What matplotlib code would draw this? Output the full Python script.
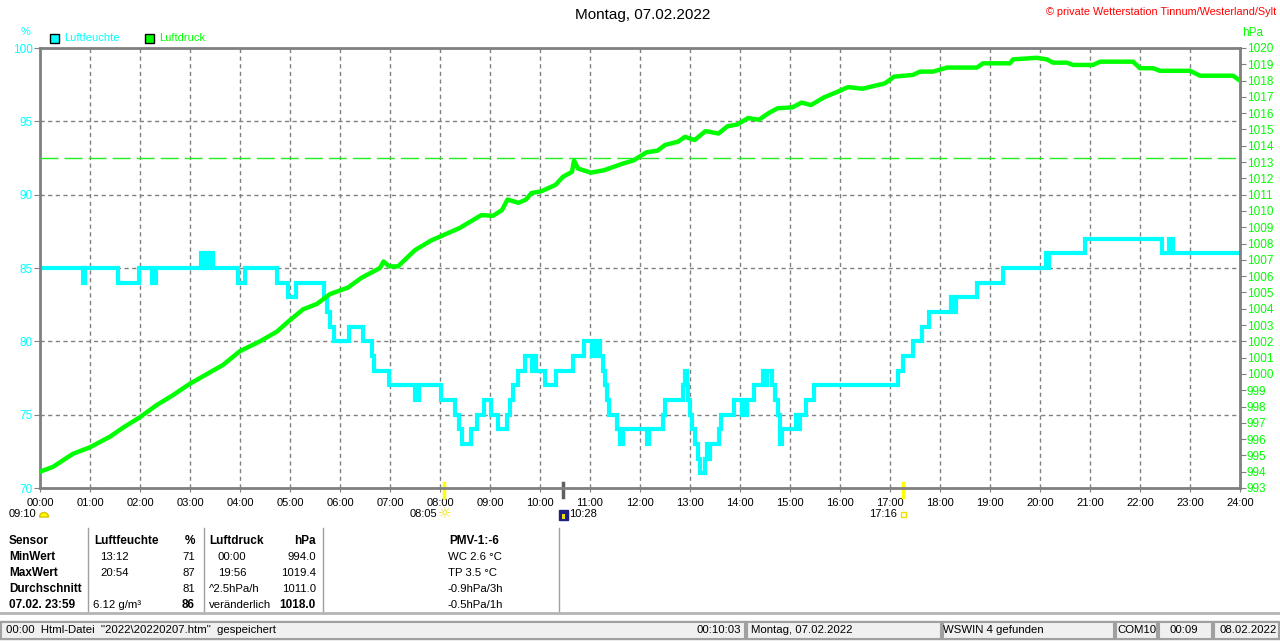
import matplotlib
matplotlib.use("Agg")
import matplotlib.pyplot as plt
import matplotlib.patches as mpatches
import matplotlib.transforms as mtransforms

plt.rcParams['font.family'] = ['Liberation Sans', 'DejaVu Sans']

# humidity, % (step values, hours since midnight)
hum_t = [0.00, 0.86, 0.90, 1.55, 1.97, 2.24, 2.32, 3.22, 3.27, 3.31, 3.35, 3.39, 3.46,
         3.96, 4.10, 4.73, 4.96, 5.12, 5.68, 5.74, 5.80, 5.88, 6.18, 6.45, 6.64, 6.68,
         6.97, 7.50, 7.57, 8.02, 8.30, 8.38, 8.44, 8.62, 8.74, 8.88, 9.02, 9.16, 9.34,
         9.40, 9.46, 9.56, 9.70, 9.84, 9.88, 9.92, 10.10, 10.32, 10.66, 10.88, 11.04,
         11.12, 11.20, 11.26, 11.30, 11.34, 11.38, 11.54, 11.60, 11.66, 12.14, 12.18,
         12.46, 12.50, 12.86, 12.90, 12.94, 12.96, 13.00, 13.04, 13.10, 13.16, 13.20,
         13.30, 13.34, 13.36, 13.40, 13.58, 13.62, 13.88, 14.04, 14.07, 14.09, 14.13,
         14.27, 14.45, 14.48, 14.53, 14.63, 14.70, 14.75, 14.80, 14.83, 15.12, 15.17,
         15.20, 15.32, 15.47, 17.16, 17.26, 17.46, 17.65, 17.78, 18.22, 18.25, 18.32,
         18.74, 19.26, 20.12, 20.15, 20.18, 20.90, 22.44, 22.58, 22.66, 24.00]
hum_v = [85, 84, 85, 84, 85, 84, 85, 86, 85, 86, 85, 86, 85,
         84, 85, 84, 83, 84, 83, 82, 81, 80, 81, 80, 79, 78,
         77, 76, 77, 76, 75, 74, 73, 74, 75, 76, 75, 74, 75,
         76, 77, 78, 79, 78, 79, 78, 77, 78, 79, 80, 79,
         80, 79, 78, 77, 76, 75, 74, 73, 74, 73, 74,
         75, 76, 77, 78, 77, 76, 75, 74, 73, 72, 71,
         72, 73, 72, 73, 74, 75, 76, 75, 76, 75, 76,
         77, 78, 77, 78, 77, 76, 75, 73, 74, 75, 74,
         75, 76, 77, 78, 79, 80, 81, 82, 83, 82, 83,
         84, 85, 86, 85, 86, 87, 86, 87, 86, 86]

# air pressure, hPa
pres_t = [0.00, 0.26, 0.66, 1.00, 1.40, 1.66, 2.00, 2.34, 2.66, 3.00, 3.40, 3.66, 4.00,
          4.40, 4.74, 4.96, 5.26, 5.54, 5.80, 6.16, 6.43, 6.80, 6.87, 6.98, 7.16, 7.50,
          7.83, 8.39, 8.83, 9.06, 9.24, 9.35, 9.57, 9.72, 9.83, 10.02, 10.31, 10.46,
          10.64, 10.68, 10.76, 11.02, 11.28, 11.65, 11.87, 12.13, 12.35, 12.50, 12.76,
          12.90, 13.09, 13.31, 13.57, 13.75, 13.94, 14.16, 14.38, 14.57, 14.75, 15.05,
          15.23, 15.42, 15.68, 15.94, 16.16, 16.45, 16.68, 16.90, 17.08, 17.46, 17.60,
          17.86, 18.14, 18.74, 18.86, 19.40, 19.46, 19.93, 20.14, 20.26, 20.54, 20.66,
          21.06, 21.20, 21.86, 22.00, 22.26, 22.40, 23.00, 23.20, 23.86, 24.00]
pres_v = [994.0, 994.3, 995.1, 995.5, 996.15, 996.7, 997.35, 998.1, 998.7, 999.4, 1000.1,
          1000.55, 1001.4, 1002.0, 1002.6, 1003.2, 1003.96, 1004.3, 1004.9, 1005.3, 1005.9,
          1006.5, 1006.9, 1006.6, 1006.6, 1007.6, 1008.2, 1008.95, 1009.75, 1009.7, 1010.06,
          1010.7, 1010.5, 1010.7, 1011.1, 1011.2, 1011.6, 1012.1, 1012.4, 1013.1, 1012.6,
          1012.35, 1012.5, 1012.9, 1013.1, 1013.6, 1013.7, 1014.05, 1014.25, 1014.55,
          1014.35, 1014.9, 1014.75, 1015.2, 1015.3, 1015.7, 1015.6, 1016.0, 1016.3, 1016.36,
          1016.65, 1016.5, 1016.97, 1017.3, 1017.6, 1017.5, 1017.67, 1017.83, 1018.24,
          1018.35, 1018.55, 1018.55, 1018.8, 1018.8, 1019.06, 1019.06, 1019.3, 1019.4,
          1019.3, 1019.1, 1019.1, 1018.96, 1018.96, 1019.16, 1019.16, 1018.76, 1018.76,
          1018.6, 1018.6, 1018.3, 1018.3, 1018.0]

std_pressure = 1013.25
hour_labels = ["%02d:00" % h for h in range(25)]
hum_ticks = [70, 75, 80, 85, 90, 95, 100]
pres_ticks = list(range(993, 1021))

# sun / moon events: (hour, label)
sunrise = (8 + 5 / 60, "08:05")
sunset = (17 + 16 / 60, "17:16")
moon_mark = (10 + 28 / 60, "10:28")
moonrise_label = "09:10"

table_rows = [
    ["Sensor", "Luftfeuchte", "%", "Luftdruck", "hPa", "PMV-1:-6"],
    ["MinWert", "13:12", "71", "00:00", "994.0", "WC 2.6 °C"],
    ["MaxWert", "20:54", "87", "19:56", "1019.4", "TP 3.5 °C"],
    ["Durchschnitt", "", "81", "^2.5hPa/h", "1011.0", "-0.9hPa/3h"],
    ["07.02. 23:59", "6.12 g/m³", "86", "veränderlich", "1018.0", "-0.5hPa/1h"],
]

status_texts = ['00:00  Html-Datei  "2022\\20220207.htm"  gespeichert', "00:10:03",
                "Montag, 07.02.2022", "WSWIN 4 gefunden", "COM10", "00:09", "08.02.2022"]

CYAN = "#00ffff"
GREEN = "#00ff00"
GRAY = "#808080"

W, H = 1280, 641
fig = plt.figure(figsize=(W / 100, H / 100), dpi=100)
fig.patch.set_facecolor("white")
ax = fig.add_axes([40 / W, 1 - 488 / H, 1200 / W, 440 / H])
ax2 = ax.twinx()

ax.step(hum_t, hum_v, where="post", color=CYAN, lw=3.0, solid_joinstyle="miter")
ax2.plot(pres_t, pres_v, color=GREEN, lw=3.2)
ax2.axhline(std_pressure, color="#22ee22", lw=1, dashes=(13, 4.3))

ax.set_xlim(0, 24)
ax.set_ylim(70, 100)
ax2.set_ylim(993, 1020)
ax.set_xticks(range(25))
ax.set_xticklabels(hour_labels)
ax.set_yticks(hum_ticks)
ax2.set_yticks(pres_ticks)

ax.grid(True, color=GRAY, lw=1, dashes=(3, 2.5))
for s in ax.spines.values():
    s.set_color(GRAY)
    s.set_linewidth(2)
for s in ax2.spines.values():
    s.set_visible(False)

ax.tick_params(axis="x", colors=GRAY, labelcolor="black", labelsize=8, length=3, pad=4)
ax.tick_params(axis="y", colors=GRAY, labelcolor=CYAN, labelsize=8.5, length=4, pad=1)
ax2.tick_params(axis="y", colors=GRAY, labelcolor=GREEN, labelsize=8.5, length=4, pad=1)

def P(x, y):
    return x / W, 1 - y / H

ident = mtransforms.IdentityTransform()

# title and captions
fig.text(*P(643, 15), "Montag, 07.02.2022", ha="center", va="center", fontsize=11)
fig.text(*P(1276, 12), "© private Wetterstation Tinnum/Westerland/Sylt", ha="right",
         va="center", fontsize=7.8, color="red")
fig.text(*P(26, 32), "%", ha="center", va="center", fontsize=8, color=CYAN)
fig.text(*P(1253, 33), "hPa", ha="center", va="center", fontsize=8.5, color=GREEN)

# legend boxes
for x0, col, lab in [(50, CYAN, "Luftfeuchte"), (145, GREEN, "Luftdruck")]:
    fig.add_artist(mpatches.Rectangle((x0, H - 43), 9, 9, facecolor=col, edgecolor="black",
                                      lw=1, transform=ident))
    fig.text(*P(x0 + 14, 38), lab, ha="left", va="center", fontsize=8, color=col)

# sun and moon marks on the time axis
blend = mtransforms.blended_transform_factory(ax.transData, ax.transAxes)
for (h, _), col in [(sunrise, "yellow"), (sunset, "yellow"), (moon_mark, "#606060")]:
    ax.plot([h, h], [0.012, -0.02], color=col, lw=2.5, transform=blend, clip_on=False)

fig.text(*P(36, 514), moonrise_label, ha="right", va="center", fontsize=8)
fig.add_artist(mpatches.Wedge((44, H - 517), 4.5, 0, 180, facecolor="yellow",
                              edgecolor="#e0c000", transform=ident))
fig.text(*P(437, 514), sunrise[1], ha="right", va="center", fontsize=8)
fig.text(*P(445, 514), "☼", ha="center", va="center", fontsize=11, color="#f0e000",
         family=["DejaVu Sans"])
fig.add_artist(mpatches.Rectangle((559, H - 520), 9, 10, facecolor="#202080",
                                  edgecolor="#202080", transform=ident))
fig.add_artist(mpatches.Rectangle((562, H - 519), 3, 5, facecolor="#f0e000", lw=0,
                                  transform=ident))
fig.text(*P(569, 514), moon_mark[1], ha="left", va="center", fontsize=8)
fig.text(*P(897, 514), sunset[1], ha="right", va="center", fontsize=8)
fig.add_artist(mpatches.Rectangle((901, H - 517), 5, 5, facecolor="white",
                                  edgecolor="#f0e000", lw=1, transform=ident))

# statistics table
row_y = [541, 557, 573, 589, 605]
FS, FSB = 8.2, 8.5
for i, row in enumerate(table_rows):
    y = row_y[i]
    head = i == 0
    bold_last = i == 4
    fig.text(*P(9, y), row[0], ha="left", va="center", fontsize=FSB, weight="bold")
    x1 = 94 if head else (100 if ":" in row[1] else 93)
    fig.text(*P(x1, y), row[1], ha="left", va="center",
             fontsize=FSB if head else FS, weight="bold" if head else "normal")
    fig.text(*P(195, y), row[2], ha="right", va="center",
             fontsize=FSB if head or bold_last else FS,
             weight="bold" if head or bold_last else "normal")
    x3 = 218 if row[3][:1].isdigit() else 209
    fig.text(*P(x3, y), row[3], ha="left", va="center",
             fontsize=FSB if head else FS, weight="bold" if head else "normal")
    fig.text(*P(316, y), row[4], ha="right", va="center",
             fontsize=FSB if head or bold_last else FS,
             weight="bold" if head or bold_last else "normal")
    if head:
        fig.text(*P(474, y), row[5], ha="center", va="center", fontsize=FSB, weight="bold")
    else:
        fig.text(*P(448, y), row[5], ha="left", va="center", fontsize=FS)

for x in [88, 204, 323, 559]:
    fig.add_artist(plt.Line2D([x, x], [H - 528, H - 613], color="#a0a0a0", lw=1,
                              transform=ident))

# status bar
fig.add_artist(plt.Line2D([0, W], [H - 613, H - 613], color="#b4b4b4", lw=2,
                          transform=ident))
fig.add_artist(mpatches.Rectangle((0, 0), W, H - 620, facecolor="#f0f0f0", lw=0,
                                  transform=ident))
panels = [(0, 744), (746, 940), (942, 1113), (1115, 1156), (1158, 1211), (1213, 1278)]
for x0, x1 in panels:
    fig.add_artist(mpatches.Rectangle((x0 + 0.5, 2.5), x1 - x0, H - 622 - 2.5,
                                      facecolor="none", edgecolor="#a0a0a0", lw=1.5,
                                      transform=ident))
sy = 630
fig.text(*P(6, sy), status_texts[0], ha="left", va="center", fontsize=8.2)
fig.text(*P(741, sy), status_texts[1], ha="right", va="center", fontsize=8.2)
fig.text(*P(751, sy), status_texts[2], ha="left", va="center", fontsize=8.2)
fig.text(*P(943, sy), status_texts[3], ha="left", va="center", fontsize=8.2)
fig.text(*P(1117, sy), status_texts[4], ha="left", va="center", fontsize=8.2)
fig.text(*P(1184, sy), status_texts[5], ha="center", va="center", fontsize=8.2)
fig.text(*P(1219, sy), status_texts[6], ha="left", va="center", fontsize=8.2)

fig.savefig("out.png", dpi=100)
